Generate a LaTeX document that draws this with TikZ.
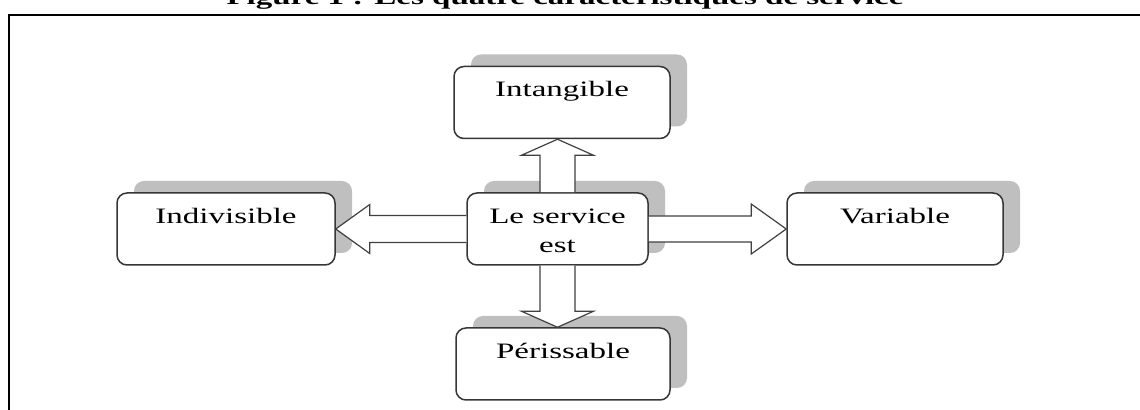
\documentclass[tikz,border=0pt]{standalone}
\usepackage{fontspec}
\setmainfont{Liberation Serif}[FakeStretch=1.5]
\usetikzlibrary{calc,shadows}
\definecolor{shadowgray}{HTML}{BFBFBF}
\definecolor{edgegray}{HTML}{363636}
\definecolor{arrowgray}{HTML}{404040}
% text of a card: top-aligned, centred, first baseline at a fixed depth
\newcommand{\cardtext}[2]{\parbox[c][36pt][t]{#1}{\centering\vspace*{5.1pt}\strut #2}}
\begin{document}
\begin{tikzpicture}[x=0.5pt,y=-0.5pt,
  font=\fontsize{11}{14.5}\selectfont,
  card/.style={draw=edgegray, line width=0.75pt, fill=white,
    rounded corners=5pt, inner sep=0pt,
    general shadow={fill=shadowgray, draw=none,
      shadow xshift=8.5pt, shadow yshift=6pt}},
  blockarrow/.style={draw=arrowgray, line width=0.6pt, fill=white,
    line join=miter}]
\useasboundingbox (0,0) rectangle (1140,410);
\clip (0,0) rectangle (1140,410);

% caption and frame
\node[font=\fontsize{11}{14.5}\selectfont\bfseries, anchor=base] (title) at (565,4.5)
  {Figure 1 : Les quatre caractéristiques de service};
\draw[line width=1pt, black] (9.3,412) -- (9.3,15) -- (1142,15);

% the five cards
\node[card] (c)   at (557.5,229) {\cardtext{90.5pt}{Le service\\est}};
\node[card] (int) at (562,102.5) {\cardtext{108pt}{Intangible}};
\node[card] (ind) at (226,229)   {\cardtext{109pt}{Indivisible}};
\node[card] (var) at (895,229)   {\cardtext{108pt}{Variable}};
\node[card] (per) at (563,364)   {\cardtext{107pt}{Périssable}};

% block arrows from the centre card
\coordinate (upTip)    at (c.north |- int.south);
\coordinate (downTip)  at (c.south |- per.north);
\coordinate (leftTip)  at (c.west -| ind.east);
\coordinate (rightTip) at (c.east -| var.west);

\filldraw[blockarrow] ($(c.north)+(-17.5,0)$) -- ($(upTip)+(-17.5,16)$)
  -- ($(upTip)+(-36,16)$) -- (upTip) -- ($(upTip)+(36,16)$)
  -- ($(upTip)+(17.5,16)$) -- ($(c.north)+(17.5,0)$);
\filldraw[blockarrow] ($(c.south)+(-17.5,0)$) -- ($(downTip)+(-17.5,-16)$)
  -- ($(downTip)+(-36,-16)$) -- (downTip) -- ($(downTip)+(36,-16)$)
  -- ($(downTip)+(17.5,-16)$) -- ($(c.south)+(17.5,0)$);
\filldraw[blockarrow] ($(c.west)+(0,-13.5)$) -- ($(leftTip)+(34,-13.5)$)
  -- ($(leftTip)+(34,-24.5)$) -- (leftTip) -- ($(leftTip)+(34,24.5)$)
  -- ($(leftTip)+(34,13.5)$) -- ($(c.west)+(0,13.5)$);
\filldraw[blockarrow] ($(c.east)+(0,-13)$) -- ($(rightTip)+(-35,-13)$)
  -- ($(rightTip)+(-35,-25)$) -- (rightTip) -- ($(rightTip)+(-35,25)$)
  -- ($(rightTip)+(-35,13)$) -- ($(c.east)+(0,13)$);
\end{tikzpicture}
\end{document}
